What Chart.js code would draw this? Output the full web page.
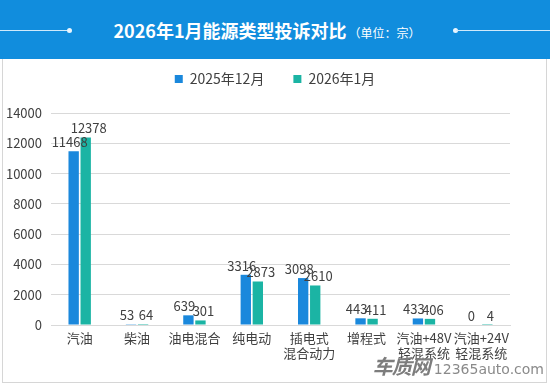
<!DOCTYPE html>
<html>
<head>
<meta charset="utf-8">
<script src="https://cdn.jsdelivr.net/npm/chart.js@4/dist/chart.umd.min.js"></script>
<style>
  html, body { margin:0; padding:0; width:550px; height:386px; background:#fff; overflow:hidden; font-family:"Microsoft YaHei","Noto Sans CJK SC",sans-serif; }
  #header { position:absolute; left:0; top:0; width:550px; height:59px; background:#118ddd; }
  #title { position:absolute; left:-8px; width:550px; top:16px; text-align:center; color:#fff; font-size:18px; font-weight:bold; line-height:28px; white-space:nowrap; }
  #title span { font-size:12px; font-weight:normal; margin-left:2px; }
  .line { position:absolute; top:30px; height:1px; background:#cfe9fb; }
  .dot { position:absolute; top:28px; width:5px; height:5px; border-radius:50%; background:#e8f5fe; }
  #panel { position:absolute; left:2px; top:59px; width:543px; height:323px; border:1px solid #d6d6d6; border-top:none; }
  #wrap { position:absolute; left:0; top:59px; width:550px; height:327px; }
  #wm { position:absolute; right:6px; bottom:6px; color:#8a8a8a; white-space:nowrap; }
  #wm b { font-size:20px; font-style:italic; color:#7d7d7d; letter-spacing:-1px; }
  #wm span { font-size:14px; font-family:"DejaVu Sans",sans-serif; margin-left:4px; }
</style>
</head>
<body>
<div id="header">
  <div class="line" style="left:0;width:68px"></div>
  <div class="dot" style="left:67px"></div>
  <div class="dot" style="left:453px"></div>
  <div class="line" style="left:456px;width:94px"></div>
  <div id="title">2026年1月能源类型投诉对比<span>（单位：宗）</span></div>
</div>
<div id="panel"></div>
<div id="wrap"><canvas id="c" width="550" height="327"></canvas></div>
<div id="wm"><b>车质网</b><span>12365auto.com</span></div>
<script>
const categories = [["汽油"],["柴油"],["油电混合"],["纯电动"],["插电式","混合动力"],["增程式"],["汽油+48V","轻混系统"],["汽油+24V","轻混系统"]];
const seriesNames = ["2025年12月","2026年1月"];
const dec2025 = [11468, 53, 639, 3316, 3098, 443, 433, 0];
const jan2026 = [12378, 64, 301, 2873, 2610, 411, 406, 4];
const yTicks = [0, 2000, 4000, 6000, 8000, 10000, 12000, 14000];

const colors = ["#1a88dc", "#1bb4a4"];
const labelOffsets = [[-4, -9], [3, -9]];
const FONT = '"Microsoft YaHei","Noto Sans CJK SC",sans-serif';

const labelPlugin = {
  id: 'vlabels',
  afterDatasetsDraw(chart) {
    const ctx = chart.ctx;
    ctx.save();
    ctx.font = '13px ' + FONT;
    ctx.fillStyle = '#404040';
    ctx.textAlign = 'center';
    ctx.textBaseline = 'middle';
    chart.data.datasets.forEach((ds, di) => {
      const meta = chart.getDatasetMeta(di);
      meta.data.forEach((bar, i) => {
        const off = labelOffsets[di];
        ctx.fillText(String(ds.data[i]), bar.x + off[0], bar.y + off[1]);
      });
    });
    ctx.restore();
  }
};

new Chart(document.getElementById('c'), {
  type: 'bar',
  data: {
    labels: categories,
    datasets: [
      { label: seriesNames[0], data: dec2025, backgroundColor: colors[0], categoryPercentage: 0.42, barPercentage: 0.86 },
      { label: seriesNames[1], data: jan2026, backgroundColor: colors[1], categoryPercentage: 0.42, barPercentage: 0.86 }
    ]
  },
  options: {
    responsive: false,
    animation: false,
    layout: { padding: { left: 0, right: 0, top: -16, bottom: 0 } },
    plugins: {
      legend: {
        position: 'top',
        labels: {
          boxWidth: 8, boxHeight: 8, padding: 29, color: '#404040',
          font: { size: 14, family: FONT }
        }
      },
      subtitle: {
        display: true, text: ' ', position: 'top', weight: 500,
        font: { size: 1, lineHeight: 1 }, padding: { top: 16, bottom: 0 }
      },
      tooltip: { enabled: false }
    },
    scales: {
      x: {
        grid: { display: false, drawTicks: false },
        border: { color: '#d9d9d9' },
        ticks: { color: '#404040', padding: 5, autoSkip: false, maxRotation: 0, font: { size: 13, family: FONT, lineHeight: 1.2 } },
        afterFit(s) { s.height = 61; }
      },
      y: {
        min: 0, max: 14000,
        afterBuildTicks(s) { s.ticks = yTicks.map(v => ({ value: v })); },
        grid: { color: '#d9d9d9', drawTicks: false },
        border: { display: false },
        ticks: { color: '#404040', padding: 9, callback: v => String(v), font: { size: 13, family: FONT } },
        afterFit(s) { s.width = 51; }
      },
      yRight: {
        position: 'right',
        grid: { display: false, drawTicks: false },
        border: { display: false },
        ticks: { display: false },
        afterFit(s) { s.width = 40; }
      }
    }
  },
  plugins: [labelPlugin]
});
</script>
</body>
</html>
